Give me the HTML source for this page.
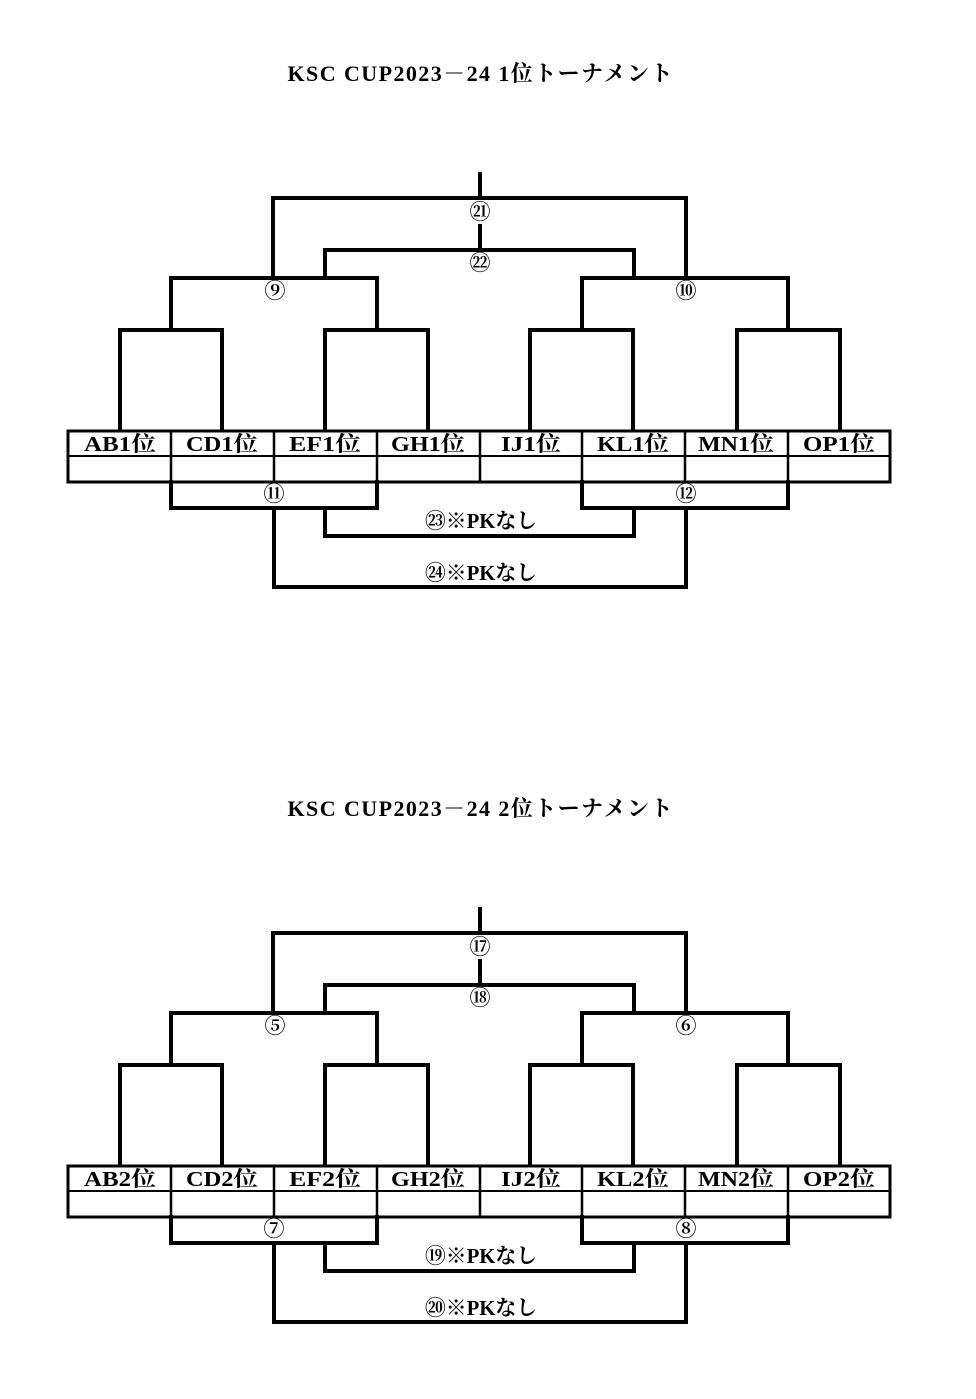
<!DOCTYPE html>
<html><head><meta charset="utf-8"><style>
html,body{margin:0;padding:0;background:#fff;}
svg{display:block;}
text{font-family:"Liberation Serif","Noto Serif CJK SC","Noto Sans CJK JP",serif;font-weight:bold;fill:#000;}
</style></head><body>
<svg width="976" height="1399" viewBox="0 0 976 1399" xmlns="http://www.w3.org/2000/svg">
<defs>
<g id="br" fill="none" stroke="#000" stroke-width="4" stroke-linecap="square">
  <path d="M480 174 V198 M480 226 V250"/>
  <path d="M273 278 V198 H686 V278"/>
  <path d="M325 278 V250 H634 V278"/>
  <path d="M171 330 V278 H377 V330"/>
  <path d="M582 330 V278 H788 V330"/>
  <path d="M120 430 V330 H222 V430"/>
  <path d="M325 430 V330 H428 V430"/>
  <path d="M530 430 V330 H633 V430"/>
  <path d="M737 430 V330 H840 V430"/>
  <path d="M171 482 V508 H377 V482"/>
  <path d="M582 482 V508 H788 V482"/>
  <path d="M325 508 V536 H634 V508"/>
  <path d="M274 508 V587 H686 V508"/>
  <rect x="68" y="431" width="822" height="51" stroke-width="3"/>
  <path d="M68 456 H890" stroke-width="2"/>
  <path d="M171 431 V482 M274 431 V482 M377 431 V482 M480 431 V482 M582 431 V482 M685 431 V482 M788 431 V482" stroke-width="2.5"/>
</g>
</defs>
<use href="#br"/>
<use href="#br" y="735"/>
<g font-size="22" text-anchor="middle">
<text x="480" y="81" textLength="385" lengthAdjust="spacing">KSC  CUP2023－24  1位トーナメント</text>
<text x="480" y="816" textLength="385" lengthAdjust="spacing">KSC  CUP2023－24  2位トーナメント</text>
</g>
<g font-size="21" text-anchor="middle" lengthAdjust="spacingAndGlyphs">
<text x="120" y="451" textLength="72" lengthAdjust="spacingAndGlyphs">AB1位</text><text x="222" y="451" textLength="72" lengthAdjust="spacingAndGlyphs">CD1位</text><text x="325" y="451" textLength="72" lengthAdjust="spacingAndGlyphs">EF1位</text><text x="428" y="451" textLength="74" lengthAdjust="spacingAndGlyphs">GH1位</text>
<text x="531" y="451" textLength="60" lengthAdjust="spacingAndGlyphs">IJ1位</text><text x="633" y="451" textLength="72" lengthAdjust="spacingAndGlyphs">KL1位</text><text x="736" y="451" textLength="76" lengthAdjust="spacingAndGlyphs">MN1位</text><text x="839" y="451" textLength="72" lengthAdjust="spacingAndGlyphs">OP1位</text>
<text x="120" y="1186" textLength="72" lengthAdjust="spacingAndGlyphs">AB2位</text><text x="222" y="1186" textLength="72" lengthAdjust="spacingAndGlyphs">CD2位</text><text x="325" y="1186" textLength="72" lengthAdjust="spacingAndGlyphs">EF2位</text><text x="428" y="1186" textLength="74" lengthAdjust="spacingAndGlyphs">GH2位</text>
<text x="531" y="1186" textLength="60" lengthAdjust="spacingAndGlyphs">IJ2位</text><text x="633" y="1186" textLength="72" lengthAdjust="spacingAndGlyphs">KL2位</text><text x="736" y="1186" textLength="76" lengthAdjust="spacingAndGlyphs">MN2位</text><text x="839" y="1186" textLength="72" lengthAdjust="spacingAndGlyphs">OP2位</text>
</g>
<g font-size="21" text-anchor="middle">
<text x="480" y="219">㉑</text><text x="480" y="270">㉒</text>
<text x="275" y="298">⑨</text><text x="686" y="298">⑩</text>
<text x="274" y="501">⑪</text><text x="686" y="501">⑫</text>
<text x="481" y="528" textLength="112" lengthAdjust="spacingAndGlyphs">㉓※PKなし</text><text x="481" y="580" textLength="112" lengthAdjust="spacingAndGlyphs">㉔※PKなし</text>
<text x="480" y="954">⑰</text><text x="480" y="1005">⑱</text>
<text x="275" y="1033">⑤</text><text x="686" y="1033">⑥</text>
<text x="274" y="1236">⑦</text><text x="686" y="1236">⑧</text>
<text x="481" y="1263" textLength="112" lengthAdjust="spacingAndGlyphs">⑲※PKなし</text><text x="481" y="1315" textLength="112" lengthAdjust="spacingAndGlyphs">⑳※PKなし</text>
</g>
</svg>
</body></html>
